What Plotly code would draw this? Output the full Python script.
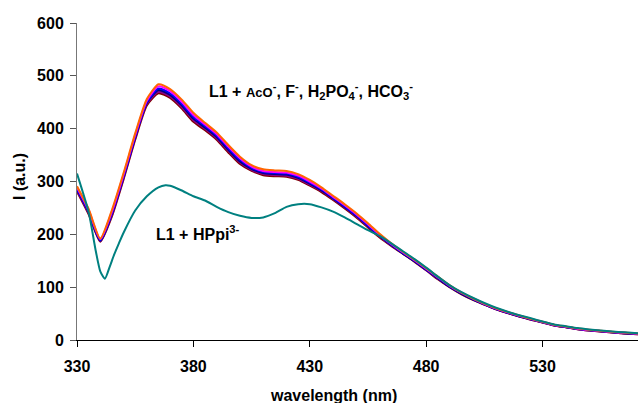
import plotly.graph_objects as go

# wavelength grid (nm) for the L1 + AcO-, F-, H2PO4-, HCO3- family
wl = [330, 335, 340, 345, 350, 355, 360, 365, 370, 375, 380, 385, 390, 395, 400, 405, 410, 415, 420, 425,
      430, 435, 440, 445, 450, 455, 460, 465, 470, 475, 480, 485, 490, 495, 500, 505, 510, 515, 520, 525,
      530, 535, 540, 545, 550, 555, 560, 565, 571]

orange = [291, 248, 192, 246, 316, 391, 456, 484, 475, 455, 430, 411, 393, 369, 347, 331, 323, 321, 320, 314,
          303, 289, 273, 257, 240, 221, 201, 183, 167, 152, 136, 120, 104, 90, 79, 69, 60, 53, 46.5, 40,
          34.5, 29, 25.5, 22, 19.5, 17.5, 15.5, 14, 12.5]
magenta = [289, 246, 191, 243, 313, 388, 453, 480, 471, 451, 426, 408, 390, 366, 344, 328, 320, 318, 317, 311,
           300, 287, 271, 255, 238, 219, 199, 182, 166, 151, 135, 119, 103, 90, 79, 68.5, 59.5, 52.5, 46, 40,
           34, 28.5, 25, 21.5, 19, 17, 15, 13.5, 12]
blue = [286, 243, 189, 240, 310, 385, 450, 476, 467, 447, 422, 405, 387, 363, 341, 326, 318, 316, 315, 309,
        298, 285, 269, 253, 236, 217, 198, 181, 165, 150, 134, 118, 102, 89, 78, 68, 59, 52, 45.5, 39.5,
        34, 28.5, 25, 21.5, 19, 17, 15, 13.5, 12]
navy = [285, 242, 188, 239, 309, 384, 449, 473, 464, 444, 419, 402, 384, 360, 338, 324, 316, 314, 313, 307,
        296, 283, 268, 252, 235, 216, 197, 180, 164, 149, 133, 117, 101, 88, 77, 67.5, 58.5, 51.5, 45, 39,
        33.5, 28, 24.5, 21, 18.5, 16.5, 14.5, 13, 11.5]
purple = [283, 240, 187, 237, 307, 382, 447, 470, 461, 441, 416, 400, 382, 358, 336, 322, 314, 312, 311, 305,
          294, 282, 267, 251, 234, 215, 196, 179, 164, 149, 132, 116, 101, 88, 77, 67, 58, 51, 44.5, 38.5,
          33, 27.5, 24, 20.5, 18, 16, 14, 12.5, 11]
maroon = [281, 238, 186, 234, 304, 379, 444, 467, 458, 438, 413, 397, 379, 355, 333, 320, 312, 310, 309, 303,
          292, 280, 265, 249, 232, 213, 194, 178, 163, 148, 132, 115, 100, 87, 76, 67, 58, 51, 44.5, 38.5,
          33, 27.5, 24, 20.5, 18, 16, 14, 12.5, 11]

# L1 + HPpi3-
wl_t = [330, 335, 338, 340, 342, 344, 346, 348, 350, 355, 360, 365, 368, 370, 375, 380, 385, 390, 395, 400,
        405, 410, 415, 420, 425, 430, 435, 440, 445, 450, 455, 460, 465, 470, 475, 480, 485, 490, 495, 500,
        505, 510, 515, 520, 525, 530, 535, 540, 545, 550, 555, 560, 565, 571]
teal = [315, 242, 170, 130, 116, 138, 162, 183, 203, 245, 272, 289, 293, 292, 283, 272, 264, 252, 242, 235,
        231, 232, 240, 252, 257, 257, 251, 243, 232, 220, 208, 197, 183, 168, 153, 137, 120, 104, 91, 80,
        70, 61, 53.5, 47, 41, 35, 29.5, 26, 22.5, 20, 18, 16, 14.5, 13]

x_ticks = [330, 380, 430, 480, 530]
y_ticks = [0, 100, 200, 300, 400, 500, 600]

FONT = "Liberation Sans, Arial, sans-serif"
FS = 16

fig = go.Figure()
main_series = [(maroon, "#800000"), (purple, "#8B008B"), (navy, "#000080"),
               (blue, "#0000FF"), (magenta, "#FF00FF"), (orange, "#FF6600")]
for ys, col in main_series:
    fig.add_trace(go.Scatter(x=wl, y=ys, mode="lines", line=dict(color=col, width=2, shape="spline", smoothing=0.6),
                             showlegend=False, hoverinfo="skip"))
fig.add_trace(go.Scatter(x=wl_t, y=teal, mode="lines", line=dict(color="#008080", width=2, shape="spline", smoothing=0.6),
                         showlegend=False, hoverinfo="skip"))

fig.update_layout(
    width=638, height=403,
    margin=dict(l=77, r=0, t=23, b=63),
    paper_bgcolor="white", plot_bgcolor="white",
    font=dict(family=FONT, color="black"),
    xaxis=dict(range=[330, 571], tickvals=x_ticks, ticks="outside", ticklen=6, tickcolor="black",
               showgrid=False, zeroline=False, showline=True, linecolor="black", linewidth=1,
               ticklabelstandoff=6,
               tickfont=dict(family=FONT, size=FS, weight="bold")),
    yaxis=dict(range=[0, 600], tickvals=y_ticks, ticks="outside", ticklen=6, tickcolor="#555",
               showgrid=False, zeroline=False, showline=True, linecolor="#777", linewidth=1,
               ticklabelstandoff=3,
               tickfont=dict(family=FONT, size=FS, weight="bold")),
    annotations=[
        dict(text="<b>L1 + <span style='font-size:13px'>AcO</span><sup>-</sup>, F<sup>-</sup>, H<sub>2</sub>PO<sub>4</sub><sup>-</sup>, HCO<sub>3</sub><sup>-</sup></b>",
             xref="paper", yref="paper", x=(207 - 77) / 561, y=1 - (91 - 23) / 317, xanchor="left", yanchor="middle",
             showarrow=False, font=dict(family=FONT, size=FS, color="black")),
        dict(text="<b>L1 + HPpi<sup>3-</sup></b>",
             xref="paper", yref="paper", x=(154 - 77) / 561, y=1 - (233 - 23) / 317, xanchor="left", yanchor="middle",
             showarrow=False, font=dict(family=FONT, size=FS, color="black")),
        dict(text="<b>wavelength (nm)</b>", xref="paper", yref="paper", x=(333 - 77) / 561, y=-(395 - 340) / 317,
             xanchor="center", yanchor="middle", showarrow=False, font=dict(family=FONT, size=FS, color="black")),
        dict(text="<b>I (a.u.)</b>", xref="paper", yref="paper", x=-(77 - 19) / 561, y=1 - (177 - 23) / 317,
             xanchor="center", yanchor="middle", textangle=-90, showarrow=False,
             font=dict(family=FONT, size=FS, color="black")),
    ],
)

fig.write_html("out.html")
